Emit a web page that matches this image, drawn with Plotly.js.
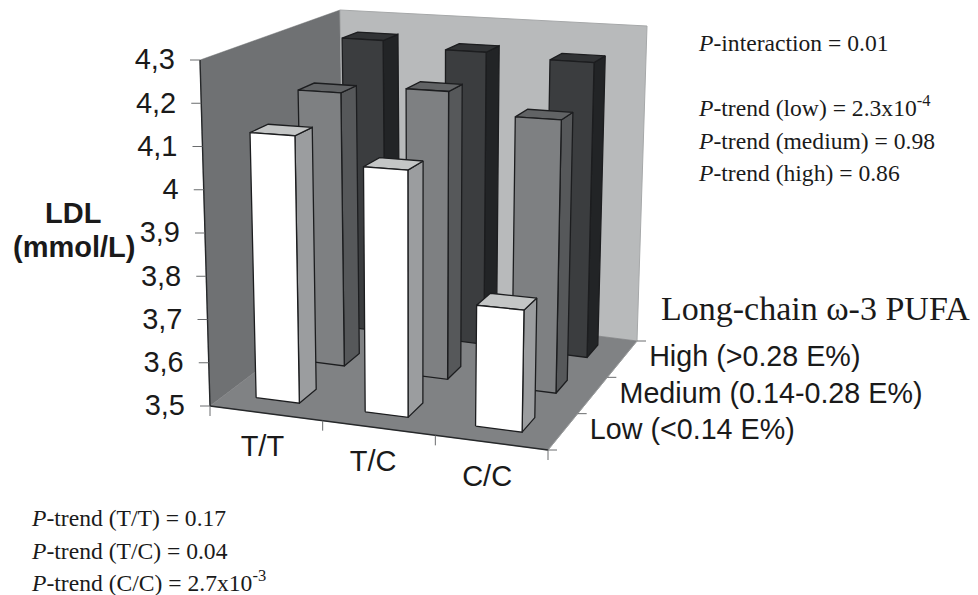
<!DOCTYPE html>
<html><head><meta charset="utf-8">
<script src="https://cdn.plot.ly/plotly-3.0.1.min.js"></script>
<style>html,body{margin:0;padding:0;background:#fff}#c{width:978px;height:595px}</style>
</head><body><div id="c"></div>
<script>
// ---- data ----
const genotypes = ['T/T', 'T/C', 'C/C'];
const intakeLevels = ['Low (<0.14 E%)', 'Medium (0.14-0.28 E%)', 'High (>0.28 E%)'];
const ldlLow = [4.12, 4.06, 3.77];
const ldlMedium = [4.17, 4.19, 4.14];
const ldlHigh = [4.255, 4.24, 4.23];
const yTickValues = [3.5, 3.6, 3.7, 3.8, 3.9, 4.0, 4.1, 4.2, 4.3];
const yTickLabels = ['3,5', '3,6', '3,7', '3,8', '3,9', '4', '4,1', '4,2', '4,3'];

// ---- scene geometry: the eight corners of the chart box, in plot units ----
const corners = {
  fl: [210, 406], fr: [548, 450], br: [637, 341], bl: [345, 304],
  tfl: [200, 60], tfr: [555, 79], tbr: [647, 26], tbl: [340, 10]
};
const yMin = 3.5, yMax = 4.3;
const barLeft = [0.09, 0.418, 0.75], barRight = [0.22, 0.547, 0.89];
const rowFront = [0.12, 0.48, 0.81], rowBack = [0.255, 0.60, 0.925];

function mix(a, b, t) { return [a[0] + (b[0] - a[0]) * t, a[1] + (b[1] - a[1]) * t]; }
function project(u, v, value) {
  const z = (value - yMin) / (yMax - yMin), c = corners;
  const floor = mix(mix(c.fl, c.fr, u), mix(c.bl, c.br, u), v);
  const roof = mix(mix(c.tfl, c.tfr, u), mix(c.tbl, c.tbr, u), v);
  return mix(floor, roof, z);
}
const traces = [];
function poly(points, fill, lineColor, lineWidth) {
  traces.push({
    type: 'scatter', mode: 'lines', hoverinfo: 'skip', showlegend: false,
    x: points.concat([points[0]]).map(p => p[0]),
    y: points.concat([points[0]]).map(p => p[1]),
    fill: 'toself', fillcolor: fill,
    line: { color: lineColor, width: lineWidth }
  });
}
function segs(list, color, width) {
  const xs = [], ys = [];
  list.forEach(s => { xs.push(s[0][0], s[1][0], null); ys.push(s[0][1], s[1][1], null); });
  traces.push({ type: 'scatter', mode: 'lines', hoverinfo: 'skip', showlegend: false, x: xs, y: ys, line: { color: color, width: width } });
}

// walls and floor
poly([project(0, 0, yMin), project(0, 1, yMin), project(0, 1, yMax), project(0, 0, yMax)], '#6f7173', '#6f7173', 0.5);
poly([project(0, 1, yMin), project(1, 1, yMin), project(1, 1, yMax), project(0, 1, yMax)], '#b8babb', '#a6a8a9', 1);
poly([project(0, 0, yMin), project(1, 0, yMin), project(1, 1, yMin), project(0, 1, yMin)], '#808284', '#808284', 0.5);

// axis lines and ticks
segs([[project(0, 0, yMin), project(1, 0, yMin)], [project(0, 0, yMin), project(0, 0, yMax)]], '#26282a', 1.4);
segs([[project(1, 0, yMin), project(1, 1, yMin)]], '#9a9c9d', 1);
const yTicks = yTickValues.map(t => { const p = project(0, 0, t); return [p, [p[0] - 10, p[1]]]; });
const xTickU = [0, 1, 2, 3].map(i => i / genotypes.length);
const xTicks = xTickU.map(u => { const p = project(u, 0, yMin); return [p, [p[0], p[1] + 10]]; });
const zTicks = [0, 1, 2, 3].map(i => { const p = project(1, i / intakeLevels.length, yMin); return [p, [p[0] + 9, p[1]]]; });
segs(yTicks.concat(xTicks).concat(zTicks), '#6a6c6e', 1);

// bars, back row first
const rows = [
  { values: ldlHigh, row: 2, front: '#3b3d3f', side: '#222426', top: '#313335' },
  { values: ldlMedium, row: 1, front: '#7e8082', side: '#56585a', top: '#616365' },
  { values: ldlLow, row: 0, front: '#ffffff', side: '#9b9d9f', top: '#c4c6c6' }
];
rows.forEach(r => {
  r.values.forEach((val, i) => {
    const u0 = barLeft[i], u1 = barRight[i], v0 = rowFront[r.row], v1 = rowBack[r.row];
    const ink = '#1c1d1f', w = 1.3;
    poly([project(u1, v0, yMin), project(u1, v1, yMin), project(u1, v1, val), project(u1, v0, val)], r.side, ink, w);
    poly([project(u0, v0, val), project(u1, v0, val), project(u1, v1, val), project(u0, v1, val)], r.top, ink, w);
    poly([project(u0, v0, yMin), project(u1, v0, yMin), project(u1, v0, val), project(u0, v0, val)], r.front, ink, w);
  });
});

// tick labels, placed through the same projection
const sans = 'Liberation Sans, Arial, sans-serif';
const serif = 'Liberation Serif, Times New Roman, serif';
function labels(pts, text, pos, size) {
  traces.push({ type: 'scatter', mode: 'text', hoverinfo: 'skip', showlegend: false, cliponaxis: false,
    x: pts.map(p => p[0]), y: pts.map(p => p[1]), text: text, textposition: pos,
    textfont: { family: sans, size: size, color: '#1a1a1a' } });
}
labels(yTickValues.map(t => { const p = project(0, 0, t); return [p[0] - 25, p[1] + 2]; }), yTickLabels, 'middle left', 29);
labels(genotypes.map((g, i) => { const p = project((barLeft[i] + barRight[i]) / 2, 0, yMin); return [p[0], p[1] + 36 + i * 0.5]; }), genotypes, 'middle center', 29);
labels(intakeLevels.map((l, i) => { const p = project(1, (i + 0.5) / intakeLevels.length, yMin); return [p[0] + 27, p[1]]; }), intakeLevels, 'middle right', 28.7);

function note(x, y, text, size, family, anchor) {
  return { x: x, y: y, xref: 'x', yref: 'y', text: text, showarrow: false, xanchor: anchor || 'left', yanchor: 'middle',
    font: { family: family, size: size, color: '#1a1a1a' } };
}
const annotations = [
  note(696, 43, '<i>P</i>-interaction = 0.01', 23.6, serif),
  note(696, 106, '<i>P</i>-trend (low) = 2.3x10<sup>-4</sup>', 23.6, serif),
  note(696, 141, '<i>P</i>-trend (medium) = 0.98', 23.6, serif),
  note(696, 173, '<i>P</i>-trend (high) = 0.86', 23.6, serif),
  note(29, 518, '<i>P</i>-trend (T/T) = 0.17', 23.6, serif),
  note(29, 551, '<i>P</i>-trend (T/C) = 0.04', 23.6, serif),
  note(29, 581, '<i>P</i>-trend (C/C) = 2.7x10<sup>-3</sup>', 23.6, serif),
  note(659, 308, 'Long-chain ω-3 PUFA', 34, serif),
  note(72.5, 213, '<b>LDL</b>', 29, sans, 'center'),
  note(73.5, 247, '<b>(mmol/L)</b>', 29, sans, 'center')
];

const layout = {
  width: 978, height: 595, margin: { l: 0, r: 0, t: 0, b: 0, pad: 0 },
  paper_bgcolor: '#fff', plot_bgcolor: '#fff', showlegend: false,
  xaxis: { range: [0, 978], visible: false, fixedrange: true },
  yaxis: { range: [595, 0], visible: false, fixedrange: true },
  annotations: annotations
};
Plotly.newPlot('c', traces, layout, { displayModeBar: false, staticPlot: true });
</script></body></html>
